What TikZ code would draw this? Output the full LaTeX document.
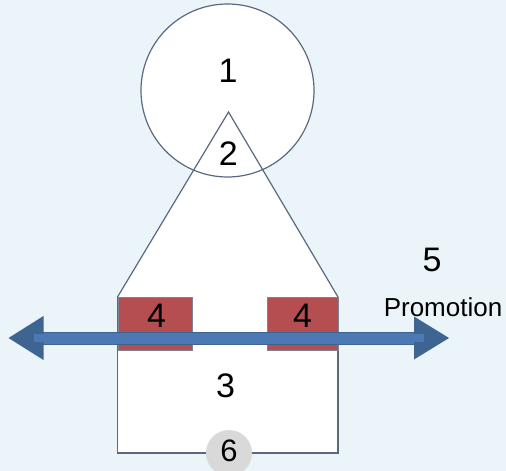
\documentclass[tikz,border=0pt]{standalone}
\usepackage{fontspec}
\setmainfont{Liberation Sans}
\definecolor{bgc}{RGB}{235,245,249}
\definecolor{edgec}{RGB}{90,105,128}
\definecolor{redc}{RGB}{181,78,80}
\definecolor{shaftc}{RGB}{76,120,180}
\definecolor{headc}{RGB}{62,100,146}
\definecolor{grayc}{RGB}{217,217,217}
\begin{document}
\begin{tikzpicture}[x=1pt,y=-1pt,
  outl/.style={draw=edgec,line width=1.2pt},
  lbl/.style={font=\fontsize{34}{34}\selectfont,inner sep=0pt},
  redbox/.style={fill=redc,draw=edgec!80,line width=0.6pt}]
\fill[bgc] (0,0) rectangle (506,471);
\useasboundingbox (0,0) rectangle (506,471);
% white fills
\fill[white] (117.5,297) rectangle (338,453);
\fill[white] (117.5,297) -- (228.5,112) -- (338,297) -- cycle;
\fill[white] (227.5,90.5) circle (86.5);
% outlines
\draw[outl] (227.5,90.5) circle (86.5);
\draw[outl] (117.5,297) -- (228.5,112) -- (338,297);
\draw[outl] (117.5,297) -- (117.5,453) -- (338,453) -- (338,297);
% red boxes
\node[redbox,minimum width=74.5pt,minimum height=53pt,anchor=north west,inner sep=0pt] (r1) at (117.5,297) {};
\node[redbox,minimum width=71.5pt,minimum height=53pt,anchor=north west,inner sep=0pt] (r2) at (266.5,297) {};
\node[lbl] at (156.5,315.5) {4};
\node[lbl] at (302.5,315.5) {4};
% arrow
\coordinate (la) at (8.5,338);
\coordinate (ra) at (449,338);
\fill[shaftc,draw=headc,line width=0.6pt] (30,332) rectangle (428,344);
\fill[headc] (la) -- (43.5,316) -- (43.5,360) -- cycle;
\fill[headc] (ra) -- (414,316.5) -- (414,359.5) -- cycle;
\fill[shaftc] (34,334) rectangle (43.5,342);
\fill[shaftc] (414,334) rectangle (424,342);
% gray circle
\node[circle,fill=grayc,minimum size=46pt,inner sep=0pt] (c6) at (229,453) {};
% labels
\node[lbl] (t1) at (228,70.5) {1};
\node[lbl] (t2) at (228.3,153.3) {2};
\node[lbl] (t3) at (225.5,385.5) {3};
\node[lbl] (t5) at (432,259.7) {5};
\node[lbl,font=\fontsize{31}{31}\selectfont] (t6) at (229,450.5) {6};
\node[inner sep=0pt,font=\fontsize{26}{26}\selectfont] (pr) at (443,307) {Promotion};
\end{tikzpicture}
\end{document}
